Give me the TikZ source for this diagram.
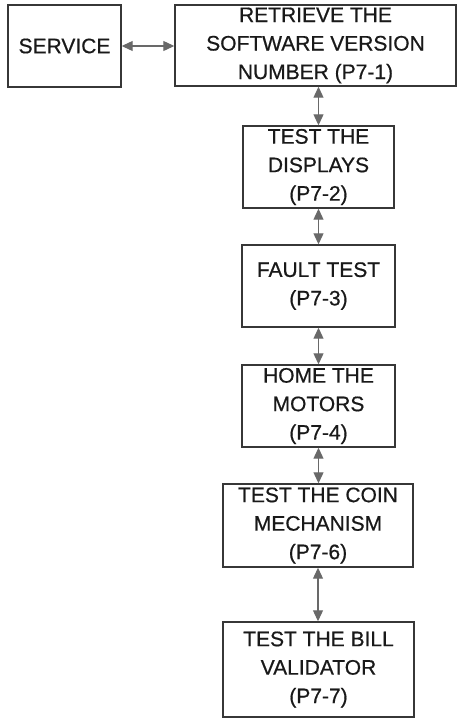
\documentclass[tikz,border=0pt]{standalone}
\usepackage{fontspec}
\setmainfont{Liberation Sans}[FakeBold=0.6]
\usetikzlibrary{arrows.meta}
\definecolor{boxline}{RGB}{55,55,55}
\definecolor{linkgray}{RGB}{105,105,105}
\definecolor{inkgray}{RGB}{25,25,25}
\begin{document}
\begin{tikzpicture}[x=1pt,y=1pt,
  stepbox/.style={draw=boxline, line width=1.4pt, rectangle, inner sep=0pt,
    align=center, text=inkgray, font=\fontsize{21}{28.5}\selectfont},
  link/.style={draw=linkgray, line width=1.1pt,
    {Triangle[length=11pt,width=10pt]}-{Triangle[length=11pt,width=10pt]}, fill=linkgray}]
\useasboundingbox (0,0) rectangle (457,-718);
% left entry box and the top step
\node[stepbox, minimum width=113pt, minimum height=82pt] (svc) at (64.5,-46) {SERVICE};
\node[stepbox, minimum width=281pt, minimum height=81pt] (p1) at (315.5,-45.5)
  {RETRIEVE THE\\SOFTWARE VERSION\\NUMBER (P7-1)};
% column of test steps
\node[stepbox, minimum width=151pt, minimum height=82pt] (p2) at (318.5,-167) {TEST THE\\DISPLAYS\\(P7-2)};
\node[stepbox, minimum width=153pt, minimum height=82pt] (p3) at (318.5,-286) {FAULT TEST\\(P7-3)};
\node[stepbox, minimum width=153pt, minimum height=82pt] (p4) at (318.5,-406) {HOME THE\\MOTORS\\(P7-4)};
\node[stepbox, minimum width=190pt, minimum height=83pt] (p6) at (318,-525.5) {TEST THE COIN\\MECHANISM\\(P7-6)};
\node[stepbox, minimum width=191pt, minimum height=95pt] (p7) at (318.5,-669.5) {TEST THE BILL\\VALIDATOR\\(P7-7)};
% two-way links
\draw[link] (svc.east) -- (svc.east -| p1.west);
\draw[link] (p1.south -| p2.north) -- (p2.north);
\draw[link] (p2.south) -- (p3.north);
\draw[link] (p3.south) -- (p4.north);
\draw[link] (p4.south) -- (p4.south |- p6.north);
\draw[link] (p6.south) -- (p6.south |- p7.north);
\end{tikzpicture}
\end{document}
